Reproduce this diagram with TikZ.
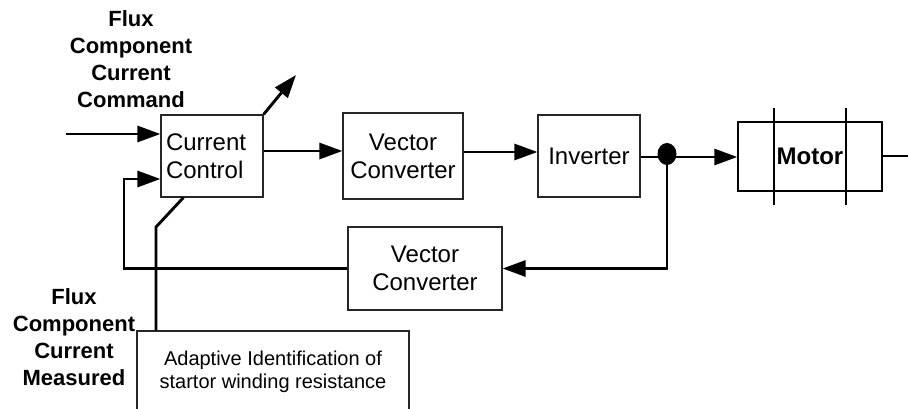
\documentclass[tikz,border=0pt]{standalone}
\usepackage{fontspec}
\setmainfont{Liberation Sans}
\usetikzlibrary{arrows.meta,calc,shapes.geometric}

\begin{document}
\begin{tikzpicture}[x=1pt,y=-1pt,
  blk/.style={draw=black!85,line width=1.2pt,inner sep=0pt,
              font=\fontsize{24}{28}\selectfont,align=center},
  wire/.style={line width=2.9pt},
  arr/.style={wire,-{Triangle[length=23pt,width=16pt]}},
  lbl/.style={font=\fontsize{22}{27}\selectfont\bfseries,align=center,inner sep=0pt}]

\useasboundingbox (0,0) rectangle (908,409);
\clip (0,0) rectangle (908,409);

% processing blocks
\node[blk,text width=92pt,inner xsep=5pt,align=left,minimum height=82pt]
  (cc) at (212,156) {Current\\Control};
\node[blk,minimum width=120pt,minimum height=86pt] (vc1) at (403,156) {Vector\\Converter};
\node[blk,minimum width=102pt,minimum height=82pt] (inv) at (589,156) {Inverter};
\node[blk,minimum width=154pt,minimum height=83pt] (vc2) at (425,268.5) {Vector\\Converter};

% motor with its shaft marks
\node[draw,line width=1.4pt,minimum width=144pt,minimum height=69pt,inner sep=0pt,
      font=\fontsize{24}{28}\selectfont\bfseries] (motor) at (810,156.5) {Motor};
\draw[line width=1.4pt] (774,108) -- (774,205) (846,108) -- (846,205);

% identification block (runs off the lower edge)
\node[draw=black!85,line width=1.2pt,minimum width=272pt,minimum height=100pt,inner sep=0pt]
  (adapt) at (273,381) {};
\node[font=\fontsize{20}{23}\selectfont,align=center,inner sep=0pt]
  (adtxt) at (273,372) {Adaptive Identification of\\startor winding resistance};

% signal labels
\node[lbl] (cmd) at (131,59) {Flux\\Component\\Current\\Command};
\node[lbl] (meas) at (74,337.5) {Flux\\Component\\Current\\Measured};

% branch point
\node[fill,ellipse,minimum width=19pt,minimum height=22pt,inner sep=0pt] (dot) at (667,154) {};

% connections
\coordinate (in) at (66,134);
\draw[arr] (in) -- (in -| cc.west);
\draw[arr] (cc.east |- 0,151) -- (vc1.west |- 0,151);
\draw[arr] (vc1.east |- 0,152) -- (inv.west |- 0,152);
\draw[arr] (inv.east |- 0,157) -- (motor.west |- 0,157);
\coordinate (out) at (908,156);
\draw[line width=1.4pt] (motor.east |- out) -- (out);
\draw[arr] (dot.center) |- (vc2.east);
\coordinate (fb) at (124,179);
\draw[arr] (vc2.west) -| (fb) -- (fb -| cc.west);
\coordinate (tip) at (296,75);
\draw[arr] (cc.north east) -- (tip);
\coordinate (bend) at (156,227);
\draw[wire] ($(cc.south west)+(23,0)$) -- (bend) -- (bend |- adapt.north);
\end{tikzpicture}
\end{document}
